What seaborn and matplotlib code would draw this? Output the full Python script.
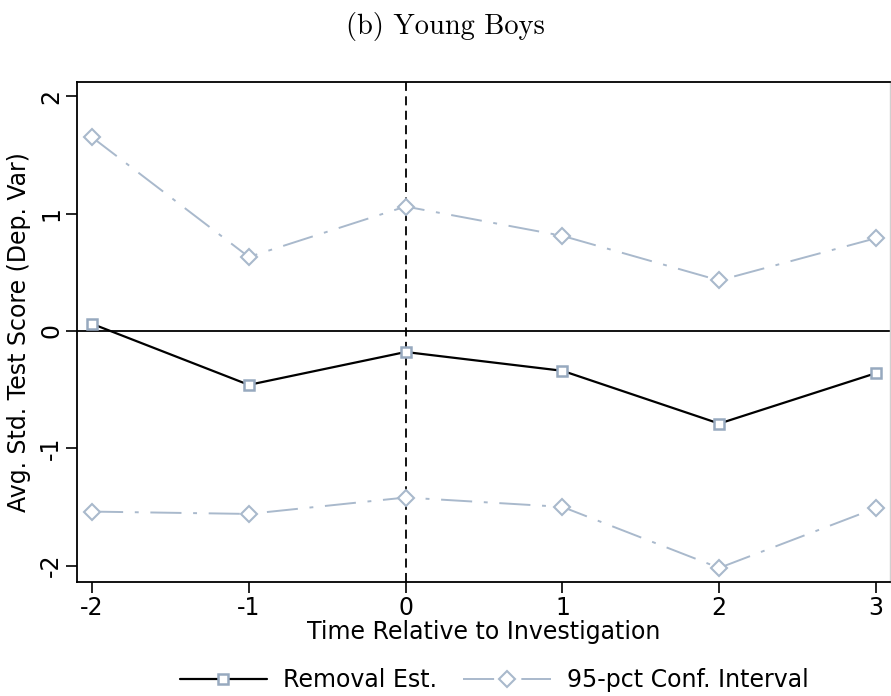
import numpy as np
import pandas as pd
import matplotlib
matplotlib.use('Agg')
import matplotlib.pyplot as plt
import seaborn as sns
from matplotlib.lines import Line2D

sns.set_style('white')
plt.rcParams['font.family'] = ['DejaVu Sans']
plt.rcParams['text.color'] = 'black'
plt.rcParams['axes.labelcolor'] = 'black'

# values
periods = [-2, -1, 0, 1, 2, 3]
estimate = [0.06, -0.46, -0.18, -0.34, -0.79, -0.36]
ci_upper = [1.65, 0.63, 1.06, 0.81, 0.43, 0.79]
ci_lower = [-1.54, -1.56, -1.42, -1.50, -2.02, -1.51]

ci_color = '#a9b9cc'
sq_color = '#97a9bf'

df = pd.DataFrame({'t': periods, 'est': estimate, 'hi': ci_upper, 'lo': ci_lower})

fig = plt.figure(figsize=(8.91, 6.96), dpi=100)
ax = fig.add_axes([0.0864, 0.1638, 0.9126, 0.7182])

ax.axhline(0, color='black', lw=1.3, zorder=1)
ax.axvline(0, color='black', lw=1.3, ls=(0, (5, 3)), zorder=1)

for col in ['hi', 'lo']:
    sns.lineplot(data=df, x='t', y=col, ax=ax, color=ci_color, lw=1.4,
                 linestyle=(0, (16, 6, 2, 6)), marker='D', markersize=8.5,
                 markerfacecolor='white', markeredgecolor=ci_color,
                 markeredgewidth=1.5, zorder=2)
sns.lineplot(data=df, x='t', y='est', ax=ax, color='black', lw=1.6,
             marker='s', markersize=7.5, markerfacecolor='white',
             markeredgecolor=sq_color, markeredgewidth=1.8, zorder=3)

ax.set_xlim(-2.096, 3.09)
ax.set_ylim(-2.14, 2.12)
ax.set_xticks(periods)
ax.set_xticklabels(['-2', '-1', '0', '1', '2', '3'])
ax.set_yticks([-2, -1, 0, 1, 2])
ax.set_yticklabels(['-2', '-1', '0', '1', '2'], rotation=90, va='center')
ax.tick_params(axis='both', direction='out', length=8, width=1.2,
               labelsize=17, colors='black', bottom=True, left=True, pad=2)
ax.set_xlabel('Time Relative to Investigation', fontsize=17, labelpad=0)
ax.set_ylabel('Avg. Std. Test Score (Dep. Var)', fontsize=17, labelpad=6)

for s in ['left', 'bottom', 'top']:
    ax.spines[s].set_color('black')
    ax.spines[s].set_linewidth(1.3)
ax.spines['right'].set_color('#d0d0d0')
ax.spines['right'].set_linewidth(1.0)

fig.text(0.5, 0.962, '(b) Young Boys', ha='center', va='center',
         fontsize=20.5, family='cmr10')

handles = [
    Line2D([0], [0], color='black', lw=1.6, marker='s', markersize=7.5,
           markerfacecolor='white', markeredgecolor=sq_color, markeredgewidth=1.8),
    Line2D([0], [0], color=ci_color, lw=1.4, linestyle=(0, (16, 6, 2, 6)),
           marker='D', markersize=8.5, markerfacecolor='white',
           markeredgecolor=ci_color, markeredgewidth=1.5),
]
fig.legend(handles, ['Removal Est.', '95-pct Conf. Interval'], loc='center',
           bbox_to_anchor=(0.5545, 0.023), ncol=2, frameon=False, fontsize=17,
           handlelength=3.7, columnspacing=1.1, handletextpad=0.68)

fig.savefig('out.png', dpi=100)
